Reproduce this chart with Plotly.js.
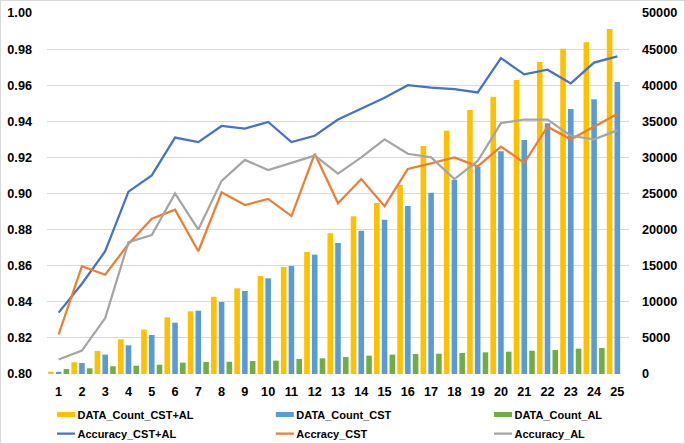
<!DOCTYPE html>
<html>
<head>
<meta charset="utf-8">
<script src="https://cdn.plot.ly/plotly-3.0.1.min.js"></script>
<style>
  html, body { margin: 0; padding: 0; background: #fff; }
  #wrap { position: relative; width: 685px; height: 444px; }
  #chart { width: 685px; height: 444px; }
  #frame { position: absolute; left: 0; top: 0; width: 683px; height: 442px; border: 1px solid #d9d9d9; pointer-events: none; }
</style>
</head>
<body>
<div id="wrap"><div id="chart"></div><div id="frame"></div></div>
<script>
const categories = ['1','2','3','4','5','6','7','8','9','10','11','12','13','14','15','16','17','18','19','20','21','22','23','24','25'];

const countCSTAL = [320,1620,3190,4800,6140,7850,8680,10700,11870,13570,14820,16900,19480,21840,23680,26180,31580,33700,36560,38400,40720,43210,45060,45940,47780];
const countCST   = [300,1520,2680,3970,5400,7110,8770,9970,11500,13250,14960,16530,18140,19850,21370,23270,25110,26870,28710,30840,32410,34720,36700,38040,40440];
const countAL    = [700,790,1070,1150,1290,1570,1660,1700,1800,1850,2080,2170,2350,2540,2680,2770,2810,2910,3000,3090,3230,3320,3510,3600,null];

const accCSTAL = [0.834,0.850,0.868,0.901,0.910,0.931,0.9285,0.9374,0.936,0.9396,0.9285,0.932,0.941,0.947,0.953,0.960,0.9586,0.9578,0.956,0.975,0.966,0.9686,0.961,0.9725,0.976];
const accCST   = [0.822,0.8597,0.855,0.872,0.886,0.891,0.868,0.9007,0.8936,0.897,0.8875,0.922,0.8946,0.908,0.893,0.9136,0.9167,0.920,0.915,0.926,0.917,0.937,0.930,0.937,0.944];
const accAL    = [0.808,0.813,0.831,0.873,0.877,0.900,0.880,0.907,0.9186,0.913,0.917,0.921,0.911,0.920,0.930,0.922,0.920,0.908,0.918,0.939,0.941,0.941,0.932,0.930,0.935];

const leftTicks = [0.80,0.82,0.84,0.86,0.88,0.90,0.92,0.94,0.96,0.98,1.00];
const rightTicks = [0,5000,10000,15000,20000,25000,30000,35000,40000,45000,50000];

const tickFont = {family: 'Liberation Sans, Arial, sans-serif', size: 12.7, color: '#000', weight: 'bold'};
const legendFont = {family: 'Liberation Sans, Arial, sans-serif', size: 11, color: '#000', weight: 'bold'};

const traces = [
  {type:'bar', name:'DATA_Count_CST+AL', x:categories, y:countCSTAL, yaxis:'y', legend:'legend', marker:{color:'#FFC000'}},
  {type:'bar', name:'DATA_Count_CST', x:categories, y:countCST, yaxis:'y', legend:'legend2', marker:{color:'#5B9BD5'}},
  {type:'bar', name:'DATA_Count_AL', x:categories, y:countAL, yaxis:'y', legend:'legend3', marker:{color:'#70AD47'}},
  {type:'scatter', mode:'lines', name:'Accuracy_CST+AL', x:categories, y:accCSTAL, yaxis:'y2', legend:'legend', line:{color:'#4472C4', width:2.25}},
  {type:'scatter', mode:'lines', name:'Accracy_CST', x:categories, y:accCST, yaxis:'y2', legend:'legend2', line:{color:'#ED7D31', width:2.25}},
  {type:'scatter', mode:'lines', name:'Accuracy_AL', x:categories, y:accAL, yaxis:'y2', legend:'legend3', line:{color:'#A5A5A5', width:2.25}}
];

function legendAt(x) {
  return {
    orientation: 'v', xref: 'container', yref: 'container',
    x: x, y: 0.099, xanchor: 'left', yanchor: 'top',
    font: legendFont, itemwidth: 30, traceorder: 'normal',
    bgcolor: 'rgba(0,0,0,0)', borderwidth: 0
  };
}

const layout = {
  width: 685, height: 444,
  margin: {l: 46.5, r: 55.5, t: 13.3, b: 70, autoexpand: false},
  paper_bgcolor: '#fff', plot_bgcolor: '#fff',
  barmode: 'group', bargap: 0, bargroupgap: 0.28,
  showlegend: true,
  legend: legendAt(0.0547),
  legend2: legendAt(0.3742),
  legend3: legendAt(0.6927),
  xaxis: {
    type: 'category', range: [-0.5, 24.5], showgrid: false, zeroline: false,
    showline: false, ticks: '', tickfont: tickFont, ticklabelstandoff: 8, automargin: false
  },
  yaxis: {
    side: 'right', range: [0, 50000], tickvals: rightTicks, ticktext: rightTicks.map(String),
    showgrid: true, gridcolor: '#d9d9d9', gridwidth: 1, zeroline: false, showline: false,
    ticks: '', tickfont: tickFont, ticklabelstandoff: 12, automargin: false
  },
  yaxis2: {
    side: 'left', overlaying: 'y', range: [0.8, 1.0], tickvals: leftTicks, ticktext: leftTicks.map(v => v.toFixed(2)),
    showgrid: false, zeroline: false, showline: false, ticks: '', tickfont: tickFont, ticklabelstandoff: 14, automargin: false
  },
  hovermode: false
};

const LINE_KEY = 'M19.5,0h18';
const BAR_KEY = 'M17.5,2.5H-0.5V-2.5H17.5Z';
function restyleKeys() {
  // Excel-style legend keys: flat wide bar keys and short line keys next to the text
  const root = document.getElementById('chart');
  root.querySelectorAll('g.traces path').forEach(function (p) {
    const cls = p.getAttribute('class') || '';
    const inPoints = p.closest('.legendpoints') !== null;
    const want = inPoints ? BAR_KEY : (cls.indexOf('js-line') >= 0 || p.closest('.legendlines') ? LINE_KEY : null);
    if (want && p.getAttribute('d') !== want) p.setAttribute('d', want);
  });
}

const chartDiv = document.getElementById('chart');
const observer = new MutationObserver(restyleKeys);
observer.observe(chartDiv, {subtree: true, childList: true, attributes: true, attributeFilter: ['d']});

Plotly.newPlot('chart', traces, layout, {staticPlot: true, displayModeBar: false}).then(function (gd) {
  restyleKeys();
  gd.on('plotly_afterplot', restyleKeys);
});
</script>
</body>
</html>
